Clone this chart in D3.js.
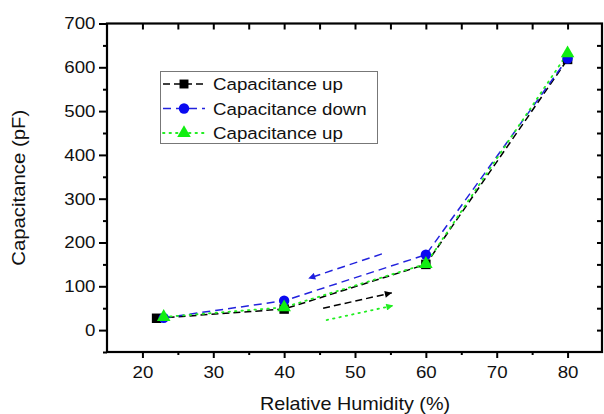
<!DOCTYPE html>
<html><head><meta charset="utf-8">
<script src="https://cdn.jsdelivr.net/npm/d3@7"></script>
<style>
body{margin:0;background:#fff;}
text{font-family:"Liberation Sans",Arial,sans-serif;fill:#111;}
</style></head>
<body><svg id="c" width="604" height="414"></svg>
<script>
// ---- data ----
const humidityUp1 = [22, 40, 60, 80];
const capacitanceUp1 = [27, 48, 150, 618];
const humidityDown = [23, 40, 60, 80];
const capacitanceDown = [28, 67, 172, 620];
const humidityUp2 = [23, 40, 60, 80];
const capacitanceUp2 = [30, 52, 151, 632];
const seriesNames = ["Capacitance up", "Capacitance down", "Capacitance up"];
const xTicks = [20, 30, 40, 50, 60, 70, 80];
const xMinorTicks = [25, 35, 45, 55, 65, 75];
const yTicks = [0, 100, 200, 300, 400, 500, 600, 700];
const yMinorTicks = [-50, 50, 150, 250, 350, 450, 550, 650];
// arrow annotations [x1, y1, x2, y2] in data units
const arrowDown = [53.8, 174, 43.4, 118];
const arrowUp1 = [45.5, 50, 55.2, 85];
const arrowUp2 = [46.0, 23, 55.4, 56];

const svg = d3.select("#c");
const L = 107, R = 603, T = 23.5, B = 352;
const x = d3.scaleLinear().domain([15, 85]).range([L, R]);
const y = d3.scaleLinear().domain([-50, 700]).range([B, T]);
const SX = 1.1;

// arrow markers
const defs = svg.append("defs");
[["ahBlack", "#000"], ["ahBlue", "#1f1fe0"], ["ahGreen", "#22ee22"]].forEach(([id, c]) => {
  defs.append("marker").attr("id", id).attr("viewBox", "0 0 10 10")
    .attr("refX", 10).attr("refY", 5).attr("markerWidth", 9).attr("markerHeight", 7)
    .attr("markerUnits", "userSpaceOnUse").attr("orient", "auto")
    .append("path").attr("d", "M0,0 L10,5 L0,10 Z").attr("fill", c);
});

// axes
const gB = svg.append("g").attr("transform", `translate(0,${B})`);
gB.call(d3.axisBottom(x).tickValues(xTicks).tickSize(6).tickFormat(d3.format("d")));
gB.append("g").call(d3.axisBottom(x).tickValues(xMinorTicks).tickSize(3).tickFormat(""));
gB.selectAll(".domain").remove();
gB.selectAll("line").attr("stroke", "#000").attr("stroke-width", 2);
gB.selectAll("text").attr("dy", null).attr("y", 26).attr("font-size", 17)
  .attr("transform", `scale(${SX},1)`).style("font-family", '"Liberation Sans",Arial,sans-serif').attr("fill", "#111");

const gL = svg.append("g").attr("transform", `translate(${L},0)`);
gL.call(d3.axisLeft(y).tickValues(yTicks).tickSize(8).tickFormat(d3.format("d")));
gL.append("g").call(d3.axisLeft(y).tickValues(yMinorTicks).tickSize(4).tickFormat(""));
gL.selectAll(".domain").remove();
gL.selectAll("line").attr("stroke", "#000").attr("stroke-width", 2);
gL.selectAll("text").attr("x", -10.5).attr("font-size", 17)
  .attr("transform", `scale(${SX},1)`).style("font-family", '"Liberation Sans",Arial,sans-serif').attr("fill", "#111");

const gT = svg.append("g").attr("transform", `translate(0,${T})`);
gT.call(d3.axisBottom(x).tickValues(xTicks.concat(xMinorTicks)).tickSize(6).tickFormat(""));
gT.selectAll(".domain").remove();
gT.selectAll("line").attr("stroke", "#000").attr("stroke-width", 2);

const gR = svg.append("g").attr("transform", `translate(${R - 1},0)`);
gR.call(d3.axisLeft(y).tickValues(yTicks.concat(yMinorTicks).filter(v => v > -50 && v < 700)).tickSize(5).tickFormat(""));
gR.selectAll(".domain").remove();
gR.selectAll("line").attr("stroke", "#000").attr("stroke-width", 2);

svg.append("rect").attr("x", L).attr("y", T).attr("width", R - 1 - L).attr("height", B - T)
  .attr("fill", "none").attr("stroke", "#000").attr("stroke-width", 2.2);

// axis titles
svg.append("text").attr("transform", `translate(${(L + R) / 2},410) scale(${SX},1)`)
  .attr("text-anchor", "middle").attr("font-size", 18).text("Relative Humidity (%)");
svg.append("text").attr("transform", `translate(25,${(T + B) / 2}) rotate(-90) scale(${SX},1)`)
  .attr("text-anchor", "middle").attr("font-size", 18.5).text("Capacitance (pF)");

// series
const line = d3.line().x(d => x(d[0])).y(d => y(d[1]));
const zip = (a, b) => a.map((v, i) => [v, b[i]]);
const s1 = zip(humidityUp1, capacitanceUp1);
const s2 = zip(humidityDown, capacitanceDown);
const s3 = zip(humidityUp2, capacitanceUp2);

svg.append("path").datum(s1).attr("d", line).attr("fill", "none").attr("stroke", "#000")
  .attr("stroke-width", 1.5).attr("stroke-dasharray", "7,4");
svg.append("path").datum(s2).attr("d", line).attr("fill", "none").attr("stroke", "#2222dd")
  .attr("stroke-width", 1.5).attr("stroke-dasharray", "8,5");
svg.append("path").datum(s3).attr("d", line).attr("fill", "none").attr("stroke", "#22ee22")
  .attr("stroke-width", 1.8).attr("stroke-dasharray", "1.5,5").attr("stroke-linecap", "round");

// arrows
function arrow(a, color, dash, mk, w) {
  svg.append("line").attr("x1", x(a[0])).attr("y1", y(a[1])).attr("x2", x(a[2])).attr("y2", y(a[3]))
    .attr("stroke", color).attr("stroke-width", w).attr("stroke-dasharray", dash)
    .attr("stroke-linecap", dash.startsWith("1.5") ? "round" : "butt")
    .attr("marker-end", `url(#${mk})`);
}
arrow(arrowDown, "#2222dd", "8,5", "ahBlue", 1.5);
arrow(arrowUp1, "#000", "7,4", "ahBlack", 1.5);
arrow(arrowUp2, "#22ee22", "1.5,5", "ahGreen", 1.8);

// markers
const sym = (type, size) => d3.symbol().type(type).size(size)();
svg.append("g").selectAll("path").data(s1).join("path")
  .attr("transform", d => `translate(${x(d[0])},${y(d[1])})`).attr("d", sym(d3.symbolSquare, 90)).attr("fill", "#000");
svg.append("g").selectAll("path").data(s2).join("path")
  .attr("transform", d => `translate(${x(d[0])},${y(d[1])})`).attr("d", sym(d3.symbolCircle, 85)).attr("fill", "#0a0af0");
svg.append("g").selectAll("path").data(s3).join("path")
  .attr("transform", d => `translate(${x(d[0])},${y(d[1])})`).attr("d", sym(d3.symbolTriangle, 80)).attr("fill", "#11ee11");

// legend
const lg = svg.append("g");
lg.append("rect").attr("x", 160.5).attr("y", 71.5).attr("width", 217).attr("height", 72)
  .attr("fill", "#fff").attr("stroke", "#777").attr("stroke-width", 1);
const legendItems = [
  {name: seriesNames[0], color: "#000", dash: "7,4", sym: d3.symbolSquare, fill: "#000", size: 80, w: 1.5},
  {name: seriesNames[1], color: "#2222dd", dash: "8,5", sym: d3.symbolCircle, fill: "#0a0af0", size: 85, w: 1.5},
  {name: seriesNames[2], color: "#22ee22", dash: "1.5,5", sym: d3.symbolTriangle, fill: "#11ee11", size: 80, w: 1.8}
];
legendItems.forEach((it, i) => {
  const cy = 84 + i * 24.5;
  lg.append("line").attr("x1", 163).attr("x2", 205).attr("y1", cy).attr("y2", cy)
    .attr("stroke", it.color).attr("stroke-width", it.w).attr("stroke-dasharray", it.dash)
    .attr("stroke-linecap", it.dash.startsWith("1.5") ? "round" : "butt");
  lg.append("path").attr("transform", `translate(184,${cy})`).attr("d", sym(it.sym, it.size)).attr("fill", it.fill);
  lg.append("text").attr("transform", `translate(213,${cy + 6}) scale(${SX},1)`)
    .attr("font-size", 17).text(it.name);
});
</script></body></html>
